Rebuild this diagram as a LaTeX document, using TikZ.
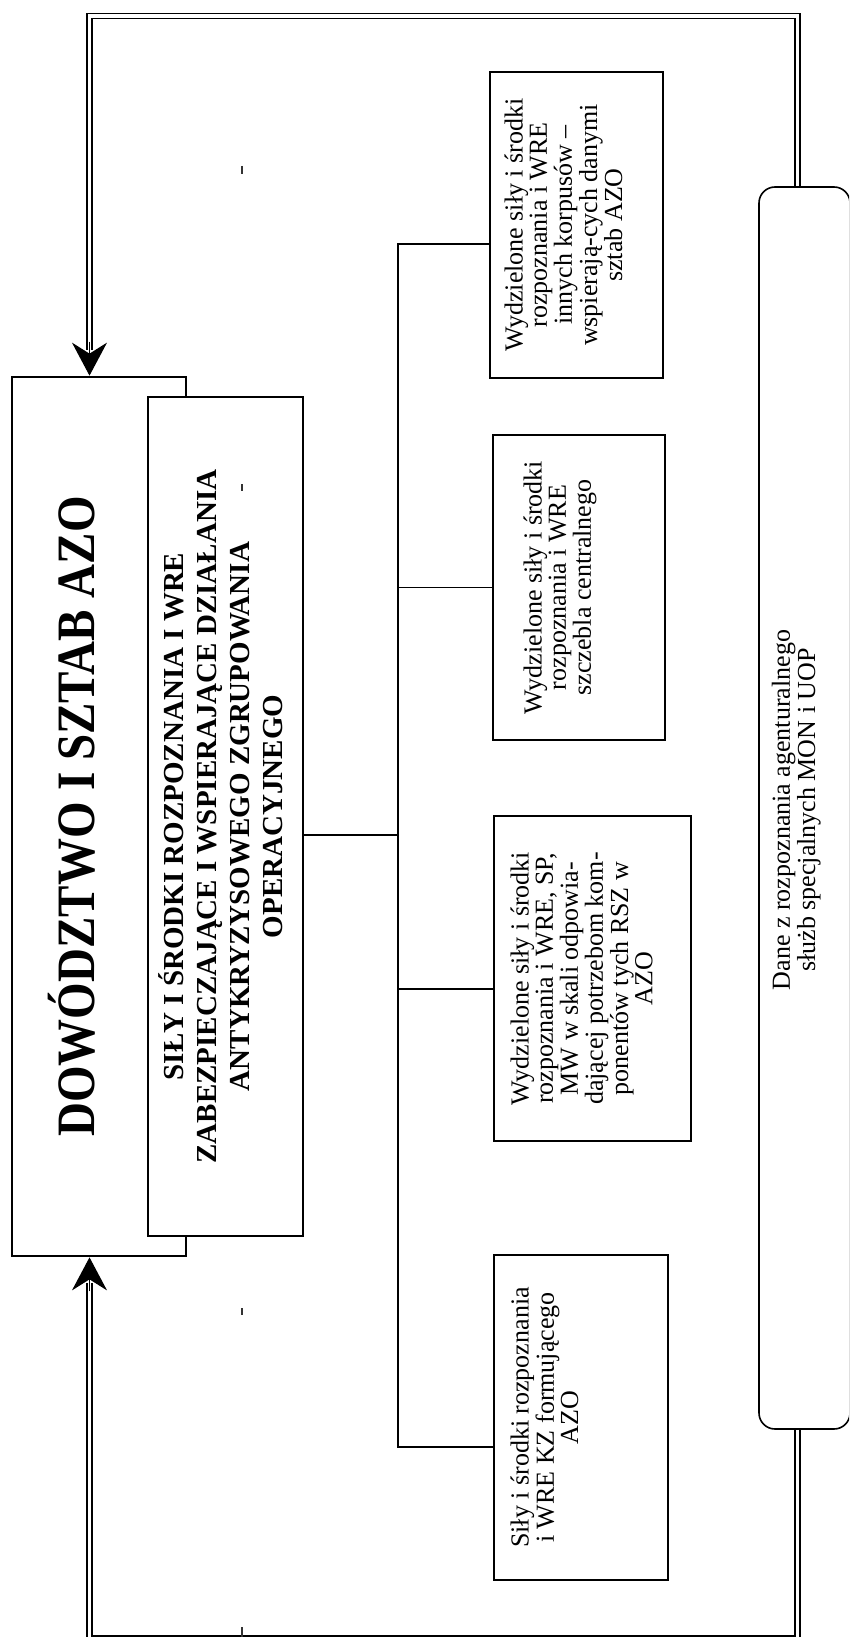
\documentclass[tikz,border=0pt]{standalone}
\usepackage{fontspec}
\setmainfont{Liberation Serif}
\usetikzlibrary{arrows.meta,calc}
% rotated, centred multi-line text (reads bottom to top)
\newcommand{\vtxt}[1]{\rotatebox{90}{\begin{tabular}{@{}c@{}}#1\end{tabular}}}
\begin{document}
\begin{tikzpicture}[x=1pt,y=-1pt,
  box/.style={draw, rectangle, line width=1.5pt, fill=white, inner sep=0pt},
  body/.style={font=\fontsize{26}{23.5}\selectfont, inner sep=0pt},
  caps/.style={font=\fontsize{29}{33}\selectfont\bfseries, inner sep=0pt},
  headline/.style={font=\fontsize{47}{52}\selectfont\bfseries, inner sep=0pt},
  wire/.style={line width=1.3pt},
  dbl/.style={draw, line width=1.3pt, double, double distance=3.6pt, line join=miter},
  tip/.style={line width=1.3pt, -{Stealth[length=33pt,width=35pt,inset=11pt]}},
  tick/.style={line width=1.1pt, black!80}
]
\useasboundingbox (0,0) rectangle (849,1637);
\clip (0,0) rectangle (849,1637);
\fill[white] (0,0) rectangle (849,1637);

% command and staff of the operational group
\node[box, line width=2.7pt, minimum width=174pt, minimum height=879pt] (hq) at (99,816.5) {};
\node[headline] (hqtxt) at (72,816.5) {\rotatebox{90}{\scalebox{1}[1.15]{DOWÓDZTWO I SZTAB AZO}}};

% own reconnaissance forces (overlaps the command box)
\node[box, line width=1.8pt, minimum width=155pt, minimum height=839pt] (forces) at (225.5,816.5) {};
\node[caps] (forcestxt) at (forces.center)
  {\vtxt{SIŁY I ŚRODKI ROZPOZNANIA I WRE\\ZABEZPIECZAJĄCE I WSPIERAJĄCE DZIAŁANIA\\ANTYKRYZYSOWEGO ZGRUPOWANIA\\OPERACYJNEGO}};

% contributing elements
\node[box, minimum width=173pt, minimum height=306pt] (b4) at (576.5,225) {};
\node[body, anchor=west] (b4txt) at ($(b4.west)+(15,0)$)
  {\vtxt{Wydzielone siły i środki\\rozpoznania i WRE\\innych korpusów –\\wspierają-cych danymi\\sztab AZO}};
\node[box, minimum width=172pt, minimum height=305pt] (b3) at (579,587.5) {};
\node[body, anchor=west] (b3txt) at ($(b3.west)+(31,0)$)
  {\vtxt{Wydzielone siły i środki\\rozpoznania i WRE\\szczebla centralnego}};
\node[box, minimum width=197pt, minimum height=325pt] (b2) at (592.5,978.5) {};
\node[body, anchor=west] (b2txt) at ($(b2.west)+(17,0)$)
  {\vtxt{Wydzielone siły i środki\\rozpoznania i WRE, SP,\\MW w skali odpowia-\\dającej potrzebom kom-\\ponentów tych RSZ w\\AZO}};
\node[box, minimum width=174pt, minimum height=325pt] (b1) at (581,1417.5) {};
\node[body, anchor=west] (b1txt) at ($(b1.west)+(17,0)$)
  {\vtxt{Siły i środki rozpoznania\\i WRE KZ formującego\\AZO}};

% intelligence services
\node[box, rounded corners=16pt, line width=1.6pt, minimum width=91pt, minimum height=1242pt] (data) at (804.5,808) {};
\node[body] (datatxt) at (797,810) {\vtxt{Dane z rozpoznania agenturalnego\\służb specjalnych MON i UOP}};

% distribution bus
\coordinate (busT) at (398,244);
\coordinate (busB) at (398,1447);
\coordinate (j2) at (398,989);
\coordinate (j0) at (398,835);
\draw[wire] (b4.west |- busT) -- (busT) -- (busB) -- (b1.west |- busB);
\draw[wire] (b3.west) -- (b3.west -| busT);
\draw[wire] (b2.west |- j2) -- (j2);
\draw[wire] (forces.east |- j0) -- (j0);

% feedback loops from the intelligence services
\coordinate (tl) at (89.5,16);
\coordinate (tr) at (797.5,16);
\coordinate (bl) at (89.5,1638.5);
\coordinate (br) at (797.5,1638.5);
\draw[dbl] (data.north -| tr) -- (tr) -- (tl) -- ($(hq.north -| tl)+(0,-26)$);
\draw[tip] ($(hq.north -| tl)+(0,-34)$) -- (hq.north -| tl);
\draw[dbl] (data.south -| br) -- (br) -- (bl) -- ($(hq.south -| tl)+(0,26)$);
\draw[tip] ($(hq.south -| tl)+(0,34)$) -- (hq.south -| tl);

% small marks
\draw[tick] (242,166) -- (242,174);
\draw[tick] (242,484) -- (242,491);
\draw[tick] (242,1308) -- (242,1315);
\draw[tick] (242,1627) -- (242,1637);
\end{tikzpicture}
\end{document}
